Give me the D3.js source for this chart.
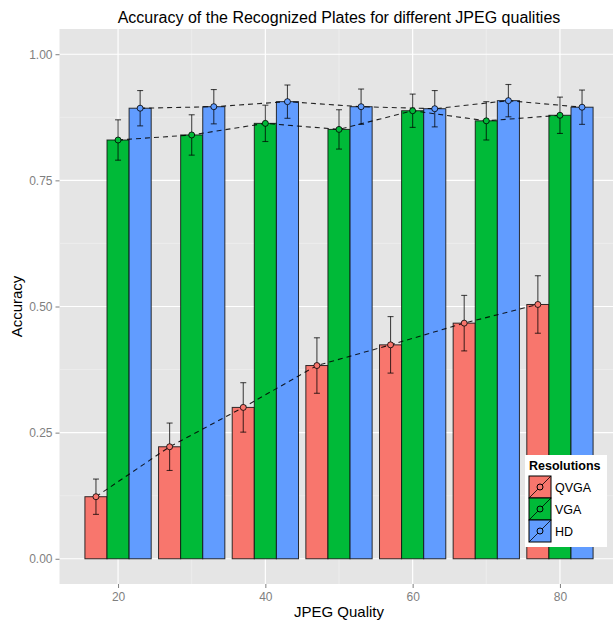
<!DOCTYPE html>
<html>
<head>
<meta charset="utf-8">
<title>jpeg accuracy</title>
<script src="https://d3js.org/d3.v7.min.js"></script>
<style>
  body {margin:0; background:white;}
  svg {display:block; font-family:"Liberation Sans", Arial, sans-serif;}
</style>
</head>
<body>
<script>
// data
const qualities = [20, 30, 40, 50, 60, 70, 80];
const resolutions = ["QVGA", "VGA", "HD"];
const qvgaAcc = [0.123, 0.222, 0.300, 0.383, 0.424, 0.467, 0.504];
const vgaAcc  = [0.830, 0.840, 0.863, 0.851, 0.888, 0.868, 0.879];
const hdAcc   = [0.893, 0.896, 0.906, 0.896, 0.892, 0.908, 0.895];
const qvgaErr = [0.035, 0.047, 0.049, 0.055, 0.056, 0.055, 0.057];
const vgaErr  = [0.040, 0.040, 0.036, 0.039, 0.033, 0.038, 0.036];
const hdErr   = [0.035, 0.034, 0.033, 0.035, 0.036, 0.032, 0.034];
const yTicks = [0, 0.25, 0.5, 0.75, 1];
const yMinor = [0.125, 0.375, 0.625, 0.875];
const xTicks = [20, 40, 60, 80];
const xMinor = [30, 50, 70];
const colors = ["#F8766D", "#00BA38", "#619CFF"];

const width = 613, height = 620;
const panel = {left: 59.5, right: 618.5, top: 29, bottom: 584};

const accs = [qvgaAcc, vgaAcc, hdAcc];
const errs = [qvgaErr, vgaErr, hdErr];
var data = [];
for (var r = 0; r < resolutions.length; r++) {
  for (var i = 0; i < qualities.length; i++) {
    data.push({res: resolutions[r], q: qualities[i], v: accs[r][i], e: errs[r][i]});
  }
}

const x = d3.scaleLinear().domain([12.05, 87.95]).range([panel.left, panel.right]);
const y = d3.scaleLinear().domain([-0.05, 1.05]).range([panel.bottom, panel.top]);
// dodge: 9 units of x per group, 3 bars
const dodge = d3.scaleBand().domain(resolutions).range([-4.5, 4.5]);
const color = d3.scaleOrdinal().domain(resolutions).range(colors);

const svg = d3.select('body').append('svg').attr('width', width).attr('height', height);

svg.append('rect')
  .attr('x', panel.left).attr('y', panel.top)
  .attr('width', panel.right - panel.left).attr('height', panel.bottom - panel.top)
  .attr('fill', '#E5E5E5');

const grid = svg.append('g');
grid.selectAll('.ymin').data(yMinor).enter().append('line')
  .attr('x1', panel.left).attr('x2', panel.right)
  .attr('y1', d => y(d)).attr('y2', d => y(d))
  .attr('stroke', '#F2F2F2').attr('stroke-width', 0.6);
grid.selectAll('.xmin').data(xMinor).enter().append('line')
  .attr('y1', panel.top).attr('y2', panel.bottom)
  .attr('x1', d => x(d)).attr('x2', d => x(d))
  .attr('stroke', '#F2F2F2').attr('stroke-width', 0.6);
grid.selectAll('.ymaj').data(yTicks).enter().append('line')
  .attr('x1', panel.left).attr('x2', panel.right)
  .attr('y1', d => y(d)).attr('y2', d => y(d))
  .attr('stroke', 'white').attr('stroke-width', 1.2);
grid.selectAll('.xmaj').data(xTicks).enter().append('line')
  .attr('y1', panel.top).attr('y2', panel.bottom)
  .attr('x1', d => x(d)).attr('x2', d => x(d))
  .attr('stroke', 'white').attr('stroke-width', 1.2);

// bars
svg.append('g').selectAll('rect').data(data).enter().append('rect')
  .attr('x', d => x(d.q + dodge(d.res)))
  .attr('width', d => x(d.q + dodge(d.res) + dodge.bandwidth()) - x(d.q + dodge(d.res)))
  .attr('y', d => y(d.v))
  .attr('height', d => y(0) - y(d.v))
  .attr('fill', d => color(d.res))
  .attr('stroke', '#111').attr('stroke-opacity', 0.85).attr('stroke-width', 1);

const cx = d => x(d.q + dodge(d.res) + dodge.bandwidth() / 2);

// error bars
const eb = svg.append('g').attr('stroke', 'black').attr('stroke-opacity', 0.7).attr('stroke-width', 1.1);
eb.selectAll('.v').data(data).enter().append('line')
  .attr('x1', cx).attr('x2', cx)
  .attr('y1', d => y(d.v + d.e)).attr('y2', d => y(d.v - d.e));
eb.selectAll('.t').data(data).enter().append('line')
  .attr('x1', d => cx(d) - 3).attr('x2', d => cx(d) + 3)
  .attr('y1', d => y(d.v + d.e)).attr('y2', d => y(d.v + d.e));
eb.selectAll('.b').data(data).enter().append('line')
  .attr('x1', d => cx(d) - 3).attr('x2', d => cx(d) + 3)
  .attr('y1', d => y(d.v - d.e)).attr('y2', d => y(d.v - d.e));

// dashed lines through each resolution
const line = d3.line().x(cx).y(d => y(d.v));
svg.append('g').selectAll('path').data(resolutions).enter().append('path')
  .attr('d', r => line(data.filter(d => d.res == r)))
  .attr('fill', 'none').attr('stroke', 'black').attr('stroke-opacity', 0.85)
  .attr('stroke-width', 1.1).attr('stroke-dasharray', '5,4');

// points
svg.append('g').selectAll('circle').data(data).enter().append('circle')
  .attr('cx', cx).attr('cy', d => y(d.v)).attr('r', 3)
  .attr('fill', d => color(d.res)).attr('stroke', 'black').attr('stroke-opacity', 0.8);

// axes
const yAxis = svg.append('g').attr('transform', `translate(${panel.left},0)`)
  .call(d3.axisLeft(y).tickValues(yTicks).tickFormat(d3.format('.2f')).tickSize(4).tickPadding(3));
const xAxis = svg.append('g').attr('transform', `translate(0,${panel.bottom})`)
  .call(d3.axisBottom(x).tickValues(xTicks).tickSize(4).tickPadding(4));
[xAxis, yAxis].forEach(g => {
  g.select('.domain').remove();
  g.selectAll('line').attr('stroke', '#7F7F7F');
  g.selectAll('text').attr('fill', '#7F7F7F').style('font-size', '12px')
    .style('font-family', '"Liberation Sans", Arial, sans-serif');
});

svg.append('text').attr('x', (panel.left + panel.right) / 2).attr('y', 23)
  .attr('text-anchor', 'middle').style('font-size', '16px')
  .text('Accuracy of the Recognized Plates for different JPEG qualities');
svg.append('text').attr('x', (panel.left + panel.right) / 2).attr('y', 617)
  .attr('text-anchor', 'middle').style('font-size', '15px').text('JPEG Quality');
svg.append('text').attr('transform', `translate(22,${(panel.top + panel.bottom) / 2}) rotate(-90)`)
  .attr('text-anchor', 'middle').style('font-size', '15px').text('Accuracy');

// legend
const lg = svg.append('g').attr('transform', 'translate(525,455)');
lg.append('rect').attr('width', 82).attr('height', 92).attr('fill', 'white');
lg.append('text').attr('x', 4).attr('y', 15).style('font-size', '12.5px').style('font-weight', 'bold').text('Resolutions');
const key = lg.selectAll('.key').data(resolutions).enter().append('g')
  .attr('transform', (d, i) => `translate(4,${21 + i * 22})`);
key.append('rect').attr('width', 22).attr('height', 22)
  .attr('fill', d => color(d)).attr('stroke', 'black').attr('stroke-width', 1);
key.append('line').attr('x1', 0).attr('y1', 22).attr('x2', 22).attr('y2', 0)
  .attr('stroke', 'black').attr('stroke-width', 0.8);
key.append('circle').attr('cx', 11).attr('cy', 11).attr('r', 3)
  .attr('fill', d => color(d)).attr('stroke', 'black');
key.append('text').attr('x', 26).attr('y', 15.5).style('font-size', '12.5px').text(d => d);
</script>
</body>
</html>
